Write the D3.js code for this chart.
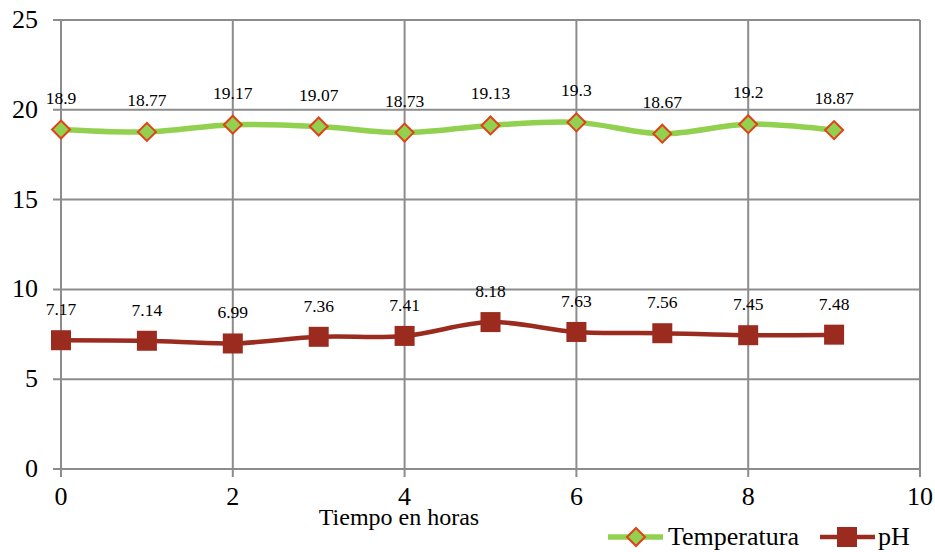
<!DOCTYPE html>
<html><head><meta charset="utf-8">
<script src="https://cdn.jsdelivr.net/npm/d3@7"></script>
<style>body{margin:0;background:#fff}svg{display:block}</style>
</head><body><svg id="c" width="935" height="552" font-family="'Liberation Serif', 'Times New Roman', Tinos, 'DejaVu Serif', serif"></svg>
<script>
const hours = [0,1,2,3,4,5,6,7,8,9];
const temperatura = [18.9,18.77,19.17,19.07,18.73,19.13,19.3,18.67,19.2,18.87];
const ph = [7.17,7.14,6.99,7.36,7.41,8.18,7.63,7.56,7.45,7.48];
const xTicks = [0,2,4,6,8,10];
const yTicks = [0,5,10,15,20,25];
const xTitle = "Tiempo en horas";
const seriesNames = ["Temperatura","pH"];

const svg = d3.select("#c");
const L=61, R=920, T=20, B=469;
const x = d3.scaleLinear().domain([0,10]).range([L,R]);
const y = d3.scaleLinear().domain([0,25]).range([B,T]);
const grid="#8c8c8c";

const g = svg.append("g");
yTicks.forEach(t=>{
  g.append("line").attr("x1",L-8).attr("x2",R).attr("y1",y(t)).attr("y2",y(t)).attr("stroke",grid).attr("stroke-width",2);
  g.append("text").attr("x",38).attr("y",y(t)+8).attr("text-anchor","end").attr("font-size",26).text(t);
});
xTicks.forEach(t=>{
  g.append("line").attr("x1",x(t)).attr("x2",x(t)).attr("y1",T).attr("y2",B+8).attr("stroke",grid).attr("stroke-width",2);
  g.append("text").attr("x",x(t)).attr("y",505).attr("text-anchor","middle").attr("font-size",26).text(t);
});
svg.append("text").attr("x",399).attr("y",525).attr("text-anchor","middle").attr("font-size",24).text(xTitle);

const line = d3.line().curve(d3.curveCatmullRom.alpha(0.5));
const tData = hours.map((h,i)=>[x(h),y(temperatura[i])]);
const pData = hours.map((h,i)=>[x(h),y(ph[i])]);
const green="#92d050", gStroke="#e0401a", red="#9b2b1f";

svg.append("path").attr("d",line(tData)).attr("fill","none").attr("stroke",green).attr("stroke-width",5.5);
svg.append("path").attr("d",line(pData)).attr("fill","none").attr("stroke",red).attr("stroke-width",4.5);

const dsize=9;
function diamond(sel,cx,cy){
  sel.append("path").attr("d",`M${cx},${cy-dsize}L${cx+dsize},${cy}L${cx},${cy+dsize}L${cx-dsize},${cy}Z`)
    .attr("fill",green).attr("stroke",gStroke).attr("stroke-width",2);
}
tData.forEach(([cx,cy])=>diamond(svg,cx,cy));
pData.forEach(([cx,cy])=>svg.append("rect").attr("x",cx-10).attr("y",cy-10).attr("width",20).attr("height",20).attr("fill",red));

temperatura.forEach((v,i)=>svg.append("text").attr("x",x(hours[i])).attr("y",y(v)-26).attr("text-anchor","middle").attr("font-size",17.5).text(v));
ph.forEach((v,i)=>svg.append("text").attr("x",x(hours[i])).attr("y",y(v)-25).attr("text-anchor","middle").attr("font-size",17.5).text(v));

const ly=537;
svg.append("line").attr("x1",608).attr("x2",663).attr("y1",ly).attr("y2",ly).attr("stroke",green).attr("stroke-width",5.5);
diamond(svg,636,ly);
svg.append("text").attr("x",668).attr("y",545).attr("font-size",26).text(seriesNames[0]);
svg.append("line").attr("x1",820).attr("x2",875).attr("y1",ly).attr("y2",ly).attr("stroke",red).attr("stroke-width",4.5);
svg.append("rect").attr("x",837).attr("y",ly-10).attr("width",20).attr("height",20).attr("fill",red);
svg.append("text").attr("x",878).attr("y",545).attr("font-size",26).text(seriesNames[1]);
</script></body></html>
